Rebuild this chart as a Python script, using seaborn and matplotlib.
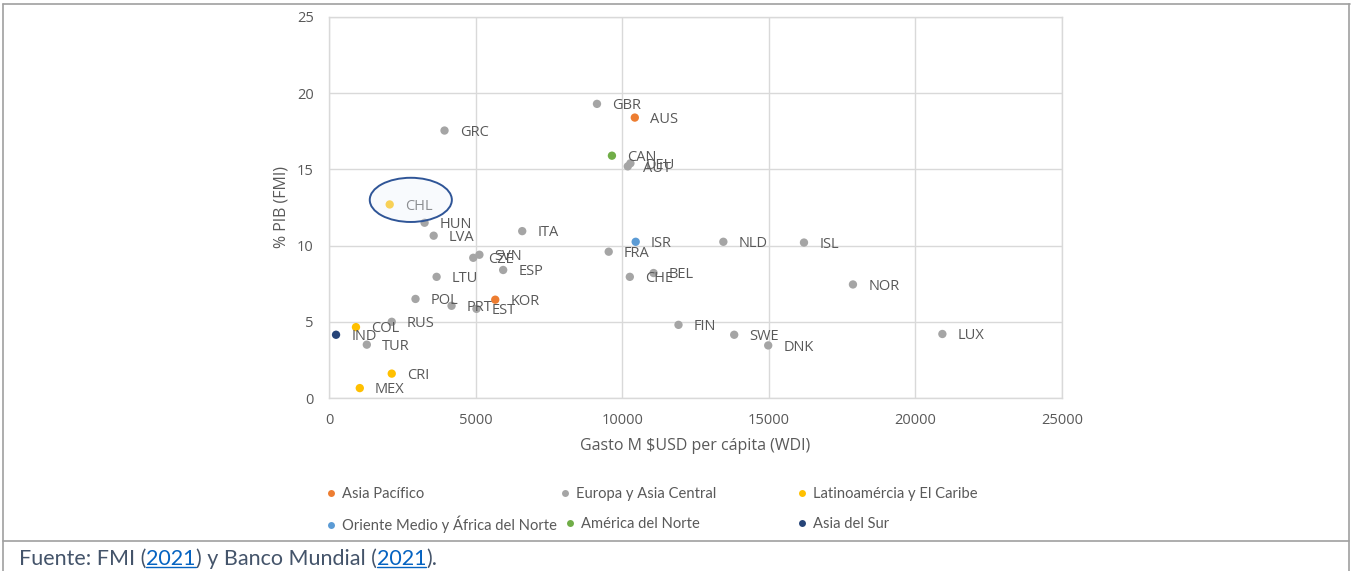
#!/usr/bin/env python
# coding=utf-8

"""
plot.py: gasto en salud per capita vs % PIB, por region.
"""

import pandas as pd
import seaborn as sns
import matplotlib.pyplot as plt
from matplotlib.lines import Line2D
from matplotlib.patches import Ellipse

# ---- datos ----
countries = ["GBR", "AUS", "GRC", "CAN", "DEU", "AUT", "CHL", "HUN", "LVA", "ITA",
             "SVN", "CZE", "ESP", "LTU", "POL", "PRT", "EST", "KOR", "RUS", "COL",
             "IND", "TUR", "CRI", "MEX", "ISR", "FRA", "CHE", "BEL", "FIN", "SWE",
             "DNK", "NLD", "ISL", "NOR", "LUX"]
gasto = [9140, 10430, 3940, 9650, 10280, 10190, 2070, 3260, 3570, 6590,
         5130, 4920, 5940, 3670, 2950, 4180, 5030, 5670, 2140, 920,
         240, 1290, 2140, 1050, 10460, 9540, 10260, 11070, 11920, 13820,
         14980, 13450, 16200, 17870, 20920]
pib = [19.3, 18.4, 17.55, 15.9, 15.4, 15.2, 12.7, 11.5, 10.65, 10.95,
       9.4, 9.2, 8.4, 7.95, 6.5, 6.05, 5.85, 6.45, 5.0, 4.65,
       4.15, 3.5, 1.6, 0.65, 10.25, 9.6, 7.95, 8.2, 4.8, 4.15,
       3.45, 10.25, 10.2, 7.45, 4.2]
region = ["Europa y Asia Central", "Asia Pacífico", "Europa y Asia Central",
          "América del Norte", "Europa y Asia Central", "Europa y Asia Central",
          "Latinoamércia y El Caribe", "Europa y Asia Central", "Europa y Asia Central",
          "Europa y Asia Central", "Europa y Asia Central", "Europa y Asia Central",
          "Europa y Asia Central", "Europa y Asia Central", "Europa y Asia Central",
          "Europa y Asia Central", "Europa y Asia Central", "Asia Pacífico",
          "Europa y Asia Central", "Latinoamércia y El Caribe", "Asia del Sur",
          "Europa y Asia Central", "Latinoamércia y El Caribe", "Latinoamércia y El Caribe",
          "Oriente Medio y África del Norte", "Europa y Asia Central", "Europa y Asia Central",
          "Europa y Asia Central", "Europa y Asia Central", "Europa y Asia Central",
          "Europa y Asia Central", "Europa y Asia Central", "Europa y Asia Central",
          "Europa y Asia Central", "Europa y Asia Central"]

legendOrder = ["Asia Pacífico", "Europa y Asia Central", "Latinoamércia y El Caribe",
               "Oriente Medio y África del Norte", "América del Norte", "Asia del Sur"]
palette = {
	"Asia Pacífico": "#ED7D31",
	"Europa y Asia Central": "#A5A5A5",
	"Latinoamércia y El Caribe": "#FFC000",
	"Oriente Medio y África del Norte": "#5B9BD5",
	"América del Norte": "#70AD47",
	"Asia del Sur": "#264478",
}

df = pd.DataFrame({"pais": countries, "gasto": gasto, "pib": pib, "region": region})

sns.set_style("white")
plt.rcParams['font.family'] = ['Open Sans', 'DejaVu Sans']

W, H = 1356, 571
fig = plt.figure(figsize=(W / 100, H / 100), dpi=100)
ax = fig.add_axes([329 / W, (H - 398) / H, (1062 - 329) / W, (398 - 17) / H])

txtGray = "#595959"
gridGray = "#D9D9D9"

sns.scatterplot(data=df, x="gasto", y="pib", hue="region", palette=palette,
                s=36, edgecolor="none", legend=False, ax=ax, zorder=3)

for _, row in df.iterrows():
	ax.annotate(row["pais"], (row["gasto"], row["pib"]), xytext=(11, -1.3),
	            textcoords="offset points", ha="left", va="center",
	            fontsize=10.5, color=txtGray, zorder=4)

# circulo de Chile
ax.add_patch(Ellipse((2790, 13.0), 2800, 2.9, facecolor=(0.93, 0.95, 0.99, 0.35),
                     edgecolor="#2F5597", linewidth=1.4, zorder=5))

ax.set_xlim(0, 25000)
ax.set_ylim(0, 25)
ax.set_xticks(range(0, 25001, 5000))
ax.set_yticks(range(0, 26, 5))
ax.grid(True, color=gridGray, linewidth=1.0)
ax.set_axisbelow(True)
for sp in ax.spines.values():
	sp.set_color(gridGray)
	sp.set_linewidth(1.0)
ax.tick_params(axis="both", length=0, labelsize=10.5, labelcolor=txtGray)
ax.tick_params(axis="x", pad=11)
ax.tick_params(axis="y", pad=11)
ax.set_xlabel("Gasto M $USD per cápita (WDI)", fontsize=11.5, color=txtGray, labelpad=7)
ax.set_ylabel("% PIB (FMI)", fontsize=11.5, color=txtGray, labelpad=5)

# leyenda: una entrada por posicion
legPos = [(331, 494), (565, 494), (802, 494), (331, 524), (570, 524), (802, 524)]
for reg, (px, py) in zip(legendOrder, legPos):
	h = Line2D([], [], marker="o", linestyle="none", markersize=5,
	           markerfacecolor=palette[reg], markeredgecolor="none")
	fig.legend([h], [reg], loc="center left",
	           bbox_to_anchor=((px - 5.5) / W, (H - py) / H),
	           frameon=False, borderpad=0, borderaxespad=0, handlelength=0.75,
	           handletextpad=0.4, prop={"family": ["Lato", "DejaVu Sans"], "size": 10.6},
	           labelcolor=txtGray)

# marco de tabla
frameCol = "#A0A0A0"
def figLine(x0, y0, x1, y1):
	fig.add_artist(Line2D([x0 / W, x1 / W], [(H - y0) / H, (H - y1) / H],
	                      color=frameCol, linewidth=1.2))
figLine(3, 4, 1350, 4)
figLine(3, 4, 3, 571)
figLine(1349, 4, 1349, 571)
figLine(3, 541, 1349, 541)

# fuente con enlaces subrayados
pieces = [("Fuente: FMI (", "#44546A", False), ("2021", "#0563C1", True),
          (") y Banco Mundial (", "#44546A", False), ("2021", "#0563C1", True),
          (").", "#44546A", False)]
renderer = fig.canvas.get_renderer()
xpos = 19
baseY = 565
for txt, col, under in pieces:
	t = fig.text(xpos / W, (H - baseY) / H, txt, color=col, fontsize=15.5,
	             family=["Lato", "DejaVu Sans"], ha="left", va="baseline")
	bb = t.get_window_extent(renderer=renderer)
	if under:
		fig.add_artist(Line2D([xpos / W, (xpos + bb.width) / W],
		                      [(H - baseY - 2) / H, (H - baseY - 2) / H],
		                      color=col, linewidth=1.0))
	xpos += bb.width

fig.savefig("out.png", dpi=100)
